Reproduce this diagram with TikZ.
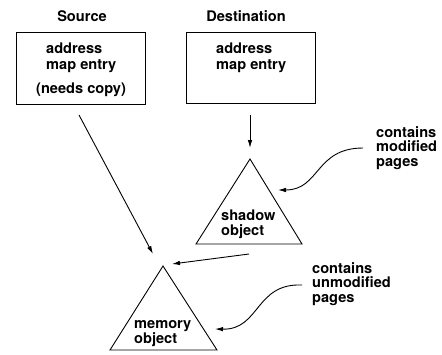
\documentclass[tikz,border=0pt]{standalone}
\usepackage{fontspec}
\setmainfont{TeX Gyre Heros}
\usetikzlibrary{arrows.meta}
\begin{document}
\begin{tikzpicture}[x=1pt,y=-1pt,
  every node/.style={font=\bfseries\fontsize{14.6}{14.5}\selectfont,inner sep=0pt},
  txt/.style={anchor=base west,align=left},
  ttl/.style={anchor=base},
  ln/.style={line width=0.9pt},
  arr/.style={ln,-{Latex[length=8pt,width=4.5pt]}}]
\useasboundingbox (0,0) rectangle (442,354);
% boxes
\draw[ln] (16,32) rectangle (145,104);
\draw[ln] (186,32) rectangle (315,103);
\node[ttl] (src) at (82,21) {Source};
\node[ttl] (dst) at (246,21) {Destination};
\node[txt] (srct) at (46,69) {address\\[1.5pt]map entry};
\node[txt] (srcn) at (36,93) {(needs copy)};
\node[txt] (dstt) at (216,69) {address\\[1.5pt]map entry};
% triangles
\coordinate (sa) at (250,159);
\coordinate (sl) at (196,244);
\coordinate (sr) at (302,244);
\draw[ln,line join=miter] (sa) -- (sl) -- (sr) -- cycle;
\coordinate (ma) at (163,266);
\coordinate (ml) at (110,350);
\coordinate (mr) at (217,350);
\draw[ln,line join=miter] (ma) -- (ml) -- (mr) -- cycle;
\node[txt] (shd) at (221,235) {shadow\\object};
\node[txt] (mem) at (134,343) {memory\\object};
% arrows
\coordinate (s1) at (79,115);
\coordinate (s2) at (153,254);
\draw[arr] (s1) -- (s2);
\coordinate (d1) at (250,115);
\coordinate (d2) at (250,148);
\draw[arr] (d1) -- (d2);
\coordinate (m1) at (249,254);
\coordinate (m2) at (172,264);
\draw[arr] (m1) -- (m2);
% annotations
\node[txt] (cm) at (376,166) {contains\\modified\\pages};
\node[txt] (cu) at (312,302) {contains\\unmodified\\pages};
\coordinate (c1) at (363,148);
\coordinate (c2) at (278,190);
\draw[arr] (c1) .. controls (315,148) and (320,190) .. (c2);
\coordinate (u1) at (302,285);
\coordinate (u2) at (215,329);
\draw[arr] (u1) .. controls (255,283) and (260,330) .. (u2);
\end{tikzpicture}
\end{document}
